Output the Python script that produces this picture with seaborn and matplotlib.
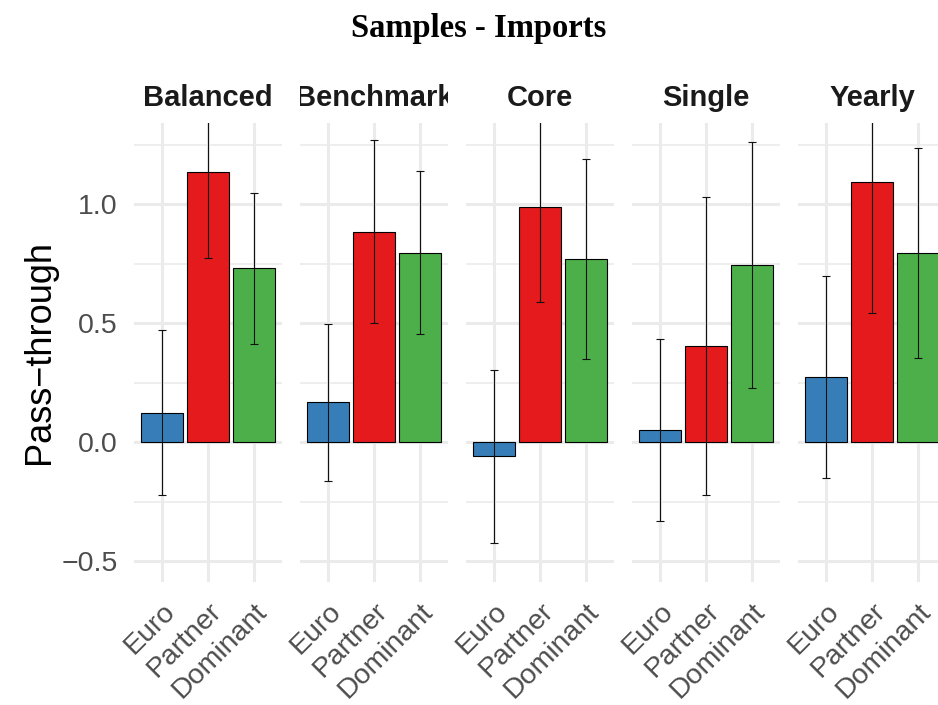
import matplotlib
matplotlib.use("Agg")
import matplotlib.pyplot as plt
from matplotlib.transforms import Bbox, TransformedBbox
import seaborn as sns
import pandas as pd

# ---- data ----
panels = ["Balanced", "Benchmark", "Core", "Single", "Yearly"]
categories = ["Euro", "Partner", "Dominant"]
estimate = {
    "Balanced":  [0.124, 1.136, 0.731],
    "Benchmark": [0.168, 0.885, 0.797],
    "Core":      [-0.059, 0.990, 0.770],
    "Single":    [0.050, 0.406, 0.746],
    "Yearly":    [0.274, 1.095, 0.794],
}
lower = {
    "Balanced":  [-0.221, 0.773, 0.414],
    "Benchmark": [-0.163, 0.500, 0.454],
    "Core":      [-0.424, 0.588, 0.349],
    "Single":    [-0.332, -0.221, 0.229],
    "Yearly":    [-0.151, 0.543, 0.353],
}
upper = {
    "Balanced":  [0.472, 1.500, 1.049],
    "Benchmark": [0.498, 1.270, 1.141],
    "Core":      [0.304, 1.390, 1.192],
    "Single":    [0.434, 1.032, 1.263],
    "Yearly":    [0.700, 1.650, 1.237],
}
yticks = [-0.5, 0.0, 0.5, 1.0]
yticklabels = ["\u22120.5", "0.0", "0.5", "1.0"]
minor_yticks = [-0.25, 0.25, 0.75, 1.25]
title = "Samples - Imports"
ylabel = "Pass\u2212through"
colors = ["#377EB8", "#E41A1C", "#4DAF4A"]

rows = []
for p in panels:
    for i, c in enumerate(categories):
        rows.append({"panel": p, "category": c, "value": estimate[p][i],
                     "lo": lower[p][i], "hi": upper[p][i]})
df = pd.DataFrame(rows)

sns.set_theme(style="white")
plt.rcParams["font.family"] = ["Liberation Sans", "DejaVu Sans"]

W, H = 938, 705
fig = plt.figure(figsize=(W / 100, H / 100), dpi=100)

left0 = 134.3
pw = 147.4
step = 166.0
top_px = 123.3
bot_px = 581.7
ylim = (-0.586, 1.340)

for k, p in enumerate(panels):
    ax = fig.add_axes([(left0 + k * step) / W, 1 - bot_px / H, pw / W, (bot_px - top_px) / H])
    sub = df[df["panel"] == p]
    sns.barplot(data=sub, x="category", y="value", hue="category", order=categories,
                hue_order=categories, palette=colors, saturation=1, width=0.9,
                edgecolor="black", linewidth=0.8, errorbar=None, legend=False,
                ax=ax, zorder=2)
    yv = sub["value"].to_numpy()
    ax.errorbar(range(len(categories)), yv,
                yerr=[yv - sub["lo"].to_numpy(), sub["hi"].to_numpy() - yv],
                fmt="none", ecolor="#111111", elinewidth=0.8, capsize=3.0,
                capthick=0.8, zorder=3)
    ax.set_xlim(-0.6, 2.6)
    ax.set_ylim(*ylim)
    ax.set_yticks(yticks)
    ax.set_yticks(minor_yticks, minor=True)
    ax.set_axisbelow(True)
    ax.grid(True, which="major", axis="both", color="#EBEBEB", linewidth=2.2)
    ax.grid(True, which="minor", axis="y", color="#EBEBEB", linewidth=1.2)
    for s in ax.spines.values():
        s.set_visible(False)
    ax.tick_params(axis="both", which="both", length=0)
    ax.tick_params(axis="y", pad=12, labelsize=20.5, labelcolor="#4D4D4D")
    ax.tick_params(axis="x", pad=12, labelsize=20.5, labelcolor="#4D4D4D")
    ax.set_xlabel("")
    ax.set_ylabel("")
    for lab in ax.get_xticklabels():
        lab.set_rotation(45)
        lab.set_ha("right")
        lab.set_va("top")
        lab.set_rotation_mode("anchor")
    if k > 0:
        ax.set_yticklabels([])
    else:
        ax.set_yticklabels(yticklabels)
    t = ax.text(0.5, 1.056, p, transform=ax.transAxes, ha="center", va="center",
                fontsize=21, fontweight="bold", color="#1A1A1A")
    t.set_clip_box(TransformedBbox(Bbox([[0, 0], [1, 1.3]]), ax.transAxes))
    t.set_clip_on(True)

fig.text(40 / W, 1 - 352.5 / H, ylabel, rotation=90, ha="center", va="center",
         fontsize=26, color="black")
fig.text(479 / W, 1 - 28 / H, title, ha="center", va="center", fontsize=23.5,
         fontweight="bold", family=["Liberation Serif", "DejaVu Serif"], color="black")

fig.savefig("out.png", dpi=100)
